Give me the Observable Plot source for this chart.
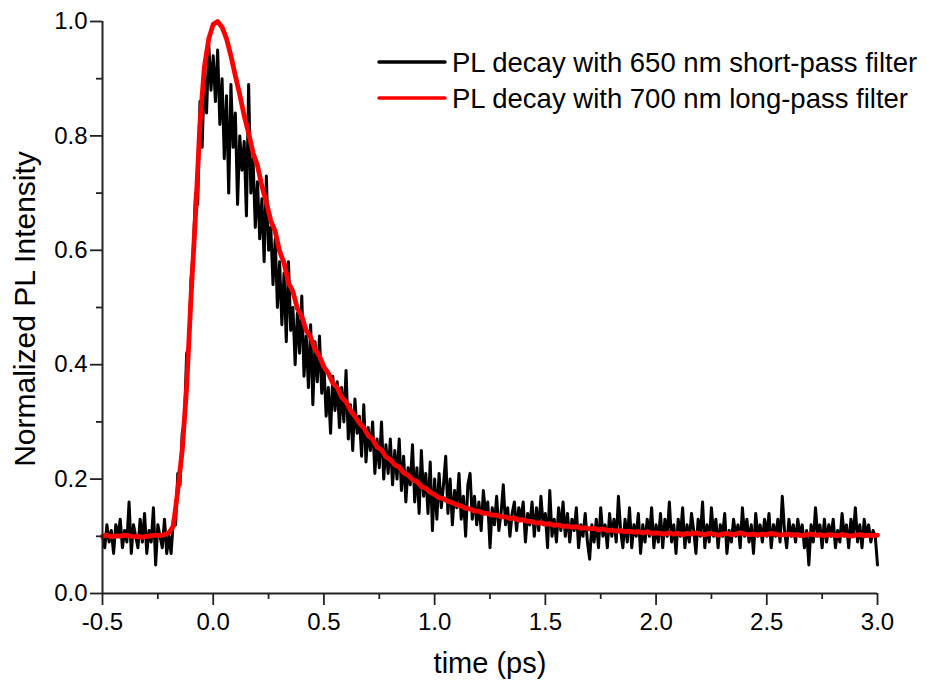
<!DOCTYPE html>
<html>
<head>
<meta charset="utf-8">
<script src="https://cdn.jsdelivr.net/npm/d3@7"></script>
<script src="https://cdn.jsdelivr.net/npm/@observablehq/plot@0.6"></script>
<style>
  html, body { margin: 0; padding: 0; background: #fff; }
  #chart { width: 927px; height: 691px; }
</style>
</head>
<body>
<div id="chart"></div>
<script>
// ---- data ----
const seriesNames = ["PL decay with 650 nm short-pass filter", "PL decay with 700 nm long-pass filter"];
const seriesColors = ["#000000", "#ff0000"];
const timeStart = -0.5;
const blackStep = 0.01;   // ps between samples of the 650 nm short-pass trace
const redStep = 0.02;     // ps between samples of the 700 nm long-pass trace

// 650 nm short-pass (black), t = -0.50 ... 3.00
const blackValues = [
  0.10,0.08,0.12,0.09,0.11,0.07,0.12,0.10,0.13,0.08,
  0.11,0.09,0.16,0.07,0.12,0.10,0.08,0.13,0.09,0.14,
  0.07,0.11,0.09,0.15,0.05,0.12,0.10,0.08,0.13,0.07,
  0.10,0.07,0.13,0.12,0.21,0.19,0.28,0.30,0.42,0.43,
  0.55,0.60,0.70,0.68,0.86,0.78,0.91,0.84,0.96,0.88,
  0.94,0.86,0.95,0.82,0.90,0.76,0.87,0.70,0.89,0.78,
  0.84,0.68,0.80,0.74,0.79,0.66,0.89,0.70,0.76,0.64,
  0.72,0.62,0.69,0.58,0.73,0.60,0.64,0.54,0.62,0.50,
  0.58,0.47,0.56,0.44,0.58,0.46,0.50,0.40,0.49,0.42,
  0.52,0.38,0.45,0.36,0.47,0.33,0.44,0.37,0.45,0.35,
  0.40,0.31,0.36,0.28,0.38,0.32,0.37,0.29,0.36,0.30,
  0.39,0.27,0.33,0.25,0.34,0.28,0.31,0.24,0.33,0.23,
  0.29,0.25,0.30,0.21,0.27,0.22,0.30,0.20,0.26,0.21,
  0.27,0.19,0.25,0.20,0.27,0.18,0.24,0.16,0.22,0.19,
  0.26,0.16,0.22,0.14,0.25,0.17,0.21,0.14,0.23,0.11,
  0.20,0.13,0.21,0.15,0.19,0.24,0.14,0.20,0.12,0.18,
  0.15,0.21,0.13,0.17,0.10,0.19,0.21,0.13,0.17,0.12,
  0.16,0.11,0.18,0.14,0.16,0.08,0.15,0.12,0.17,0.11,
  0.14,0.19,0.12,0.15,0.10,0.14,0.16,0.11,0.15,0.13,
  0.16,0.09,0.14,0.12,0.16,0.10,0.15,0.11,0.17,0.12,
  0.14,0.08,0.18,0.10,0.13,0.09,0.15,0.11,0.16,0.10,
  0.14,0.09,0.13,0.11,0.15,0.08,0.12,0.10,0.14,0.09,
  0.06,0.12,0.09,0.13,0.08,0.15,0.10,0.12,0.08,0.14,
  0.10,0.13,0.09,0.17,0.11,0.08,0.13,0.09,0.15,0.08,
  0.12,0.10,0.14,0.07,0.12,0.09,0.13,0.10,0.15,0.08,
  0.12,0.09,0.14,0.08,0.13,0.10,0.16,0.09,0.12,0.07,
  0.13,0.10,0.15,0.08,0.12,0.09,0.14,0.11,0.07,0.13,
  0.10,0.16,0.08,0.12,0.09,0.15,0.10,0.13,0.08,0.12,
  0.10,0.14,0.07,0.11,0.09,0.13,0.10,0.12,0.08,0.15,
  0.10,0.13,0.09,0.12,0.07,0.14,0.10,0.12,0.09,0.13,
  0.10,0.14,0.08,0.12,0.10,0.13,0.09,0.17,0.11,0.08,
  0.13,0.10,0.12,0.09,0.13,0.10,0.12,0.08,0.11,0.05,
  0.12,0.09,0.15,0.10,0.12,0.08,0.13,0.09,0.12,0.10,
  0.13,0.08,0.11,0.09,0.14,0.10,0.12,0.08,0.13,0.10,
  0.15,0.09,0.12,0.08,0.13,0.10,0.12,0.09,0.11,0.10,
  0.05
];

// 700 nm long-pass (red), t = -0.50 ... 3.00
const redValues = [
  0.100,0.102,0.099,0.101,0.100,0.102,0.101,0.099,0.100,0.098,
  0.100,0.101,0.102,0.101,0.103,
  0.106,0.118,0.180,0.250,0.360,0.520,0.660,0.820,0.920,0.970,0.995,
  1.000,0.990,0.970,0.940,0.905,0.872,0.835,0.805,0.770,0.748,
  0.712,0.684,0.652,0.633,0.598,0.578,0.543,0.528,0.498,0.485,
  0.460,0.448,0.427,0.415,0.396,0.385,0.368,0.360,0.343,0.335,
  0.320,0.310,0.298,0.290,0.276,0.270,0.256,0.251,0.239,0.234,
  0.225,0.221,0.211,0.207,0.199,0.196,0.187,0.184,0.177,0.173,
  0.167,0.166,0.161,0.159,0.155,0.153,0.149,0.148,0.144,0.144,
  0.140,0.140,0.137,0.137,0.134,0.134,0.131,0.132,0.128,0.129,
  0.126,0.126,0.123,0.124,0.121,0.122,0.119,0.120,0.117,0.118,
  0.116,0.117,0.114,0.115,0.113,0.114,0.111,0.113,0.110,0.111,
  0.109,0.110,0.108,0.109,0.107,0.108,0.106,0.108,0.105,0.106,
  0.105,0.104,0.106,0.104,0.105,0.103,0.105,0.104,0.106,0.104,
  0.103,0.105,0.104,0.102,0.104,0.105,0.103,0.104,0.106,0.104,
  0.103,0.104,0.102,0.104,0.103,0.105,0.104,0.102,0.103,0.104,
  0.102,0.103,0.101,0.103,0.104,0.102,0.103,0.101,0.103,0.102,
  0.101,0.103,0.102,0.100,0.102,0.103,0.101,0.102,0.101,0.102
];

const xMajorTicks = [-0.5, 0.0, 0.5, 1.0, 1.5, 2.0, 2.5, 3.0];
const xMinorTicks = [-0.25, 0.25, 0.75, 1.25, 1.75, 2.25, 2.75];
const yMajorTicks = [0.0, 0.2, 0.4, 0.6, 0.8, 1.0];
const yMinorTicks = [0.1, 0.3, 0.5, 0.7, 0.9];
const xTitle = "time (ps)";
const yTitle = "Normalized PL Intensity";

// ---- tables for Plot ----
const blackData = blackValues.map((v, i) => ({t: timeStart + i * blackStep, v}));
const redData = redValues.map((v, i) => ({t: timeStart + i * redStep, v}));

const W = 927, H = 691;
const font = "'Liberation Sans', Arial, Helvetica, sans-serif";

const chart = Plot.plot({
  width: W,
  height: H,
  marginLeft: 102,
  marginRight: 50,
  marginTop: 21,
  marginBottom: 98,
  style: {fontFamily: font, background: "#fff", color: "#000", overflow: "visible"},
  x: {domain: [-0.5, 3.0]},
  y: {domain: [0, 1]},
  marks: [
    Plot.line(blackData, {x: "t", y: "v", stroke: seriesColors[0], strokeWidth: 3, strokeLinejoin: "round"}),
    Plot.line(redData, {x: "t", y: "v", stroke: seriesColors[1], strokeWidth: 4.8, strokeLinejoin: "round"}),
    Plot.axisX(xMajorTicks, {tickSize: 12, tickPadding: 7, fontSize: 24, tickFormat: d => d.toFixed(1), label: null, stroke: "#222", strokeWidth: 1.8}),
    Plot.axisX(xMinorTicks, {tickSize: 6, tickFormat: () => "", label: null, stroke: "#222", strokeWidth: 1.8}),
    Plot.axisY(yMajorTicks, {tickSize: 12, tickPadding: 3, fontSize: 24, tickFormat: d => d.toFixed(1), label: null, stroke: "#222", strokeWidth: 1.8}),
    Plot.axisY(yMinorTicks, {tickSize: 6, tickFormat: () => "", label: null, stroke: "#222", strokeWidth: 1.8}),
    Plot.ruleY([0], {stroke: "#222", strokeWidth: 2}),
    Plot.ruleX([-0.5], {stroke: "#222", strokeWidth: 2})
  ]
});

const svg = d3.select(chart);
// axis titles
svg.append("text")
  .attr("x", 490).attr("y", 673)
  .attr("text-anchor", "middle")
  .attr("font-family", font).attr("font-size", 29).attr("fill", "#000")
  .text(xTitle);
svg.append("text")
  .attr("transform", "translate(35,309) rotate(-90)")
  .attr("text-anchor", "middle")
  .attr("font-family", font).attr("font-size", 30).attr("fill", "#000")
  .text(yTitle);

// legend
const legendY = [62, 98];
seriesNames.forEach((name, i) => {
  svg.append("line")
    .attr("x1", 379).attr("x2", 445)
    .attr("y1", legendY[i]).attr("y2", legendY[i])
    .attr("stroke", seriesColors[i]).attr("stroke-width", 3.5).attr("stroke-linecap", "round");
  svg.append("text")
    .attr("x", 452).attr("y", legendY[i])
    .attr("dy", "0.35em")
    .attr("text-anchor", "start")
    .attr("font-family", font).attr("font-size", 27.5).attr("fill", "#000")
    .text(name);
});

document.getElementById("chart").appendChild(chart);
</script>
</body>
</html>
